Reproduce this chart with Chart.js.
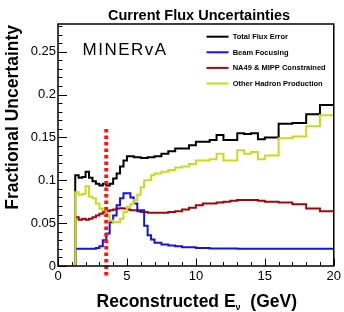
<!DOCTYPE html>
<html>
<head>
<meta charset="utf-8">
<script src="https://cdn.jsdelivr.net/npm/chart.js@4.4.1/dist/chart.umd.min.js"></script>
<style>
html,body{margin:0;padding:0;background:#fff;}
</style>
</head>
<body>
<canvas id="chartFlux" width="344" height="312"></canvas>
<script>
// bin edges (GeV) and per-bin fractional uncertainties
const binEdges = [1.25,1.5,1.75,2.0,2.25,2.5,2.75,3.0,3.25,3.5,3.75,4.0,4.25,4.5,4.75,5.0,5.25,5.5,5.75,6.0,6.25,6.5,6.75,
  7.0,7.5,8.0,8.5,9.0,9.5,10,10.5,11,11.5,12,12.5,13,13.5,14,14.5,15,16,17,18,19,20];

const totalErr = [0.106,0.103,0.104,0.110,0.103,0.099,0.096,0.094,0.096,0.094,0.096,0.102,0.108,0.116,0.123,0.128,0.128,0.127,0.127,0.126,0.126,0.127,0.127,
  0.128,0.131,0.134,0.137,0.137,0.141,0.145,0.145,0.147,0.153,0.147,0.147,0.155,0.154,0.155,0.148,
  0.150,0.166,0.167,0.177,0.188];

const beamFocus = [0.020,0.020,0.020,0.020,0.020,0.020,0.021,0.023,0.030,0.038,0.051,0.059,0.071,0.079,0.085,0.085,0.080,0.073,0.065,0.065,0.047,0.036,0.031,
  0.027,0.025,0.024,0.023,0.022,0.022,0.021,0.021,0.0205,0.0205,0.0203,0.0203,0.020,0.020,0.020,0.020,
  0.020,0.020,0.020,0.020,0.020];

const na49Mipp = [0.057,0.054,0.055,0.054,0.055,0.057,0.059,0.061,0.063,0.064,0.065,0.066,0.067,0.0675,0.067,0.066,0.065,0.065,0.064,0.063,0.063,0.062,0.062,
  0.062,0.062,0.063,0.064,0.066,0.068,0.071,0.073,0.073,0.074,0.075,0.076,0.077,0.077,0.077,0.076,
  0.075,0.074,0.072,0.067,0.064];

const otherHadron = [0.086,0.083,0.084,0.093,0.081,0.079,0.073,0.067,0.065,0.059,0.053,0.051,0.051,0.055,0.063,0.069,0.072,0.077,0.083,0.092,0.100,0.100,0.106,
  0.108,0.110,0.112,0.115,0.116,0.119,0.123,0.123,0.1245,0.131,0.123,0.123,0.135,0.131,0.133,0.1245,
  0.129,0.149,0.151,0.163,0.176];

const seriesNames = ['Total Flux Error','Beam Focusing','NA49 & MIPP Constrained','Other Hadron Production'];
const seriesColors = ['#000000','#1414dc','#9a0a0a','#c8dc1e'];

// dotted cut line
const cutX = [3.5, 3.5];
const cutY = [-0.011, 0.162];

const xTickVals = [0,5,10,15,20];
const xTickLabels = ['0','5','10','15','20'];
const yTickVals = [0,0.05,0.1,0.15,0.2,0.25];
const yTickLabels = ['0','0.05','0.1','0.15','0.2','0.25'];

// histogram -> step points (left edges), starts at 0 from E=0
function histPoints(vals){
  const pts = [{x:0,y:0}];
  for(let i=0;i<vals.length;i++){
    pts.push({x:binEdges[i],y:vals[i]});
  }
  pts.push({x:binEdges[vals.length],y:vals[vals.length-1]});
  return pts;
}

function histSet(label,vals,color){
  return {
    label:label,
    data:histPoints(vals),
    borderColor:color,
    borderWidth:2,
    pointRadius:0,
    fill:false,
    stepped:true,
  }
}

const framePlugin = {
  id:'frame',
  afterDraw(chart){
    const ctx = chart.ctx;
    const a = chart.chartArea;
    const xs = chart.scales.x, ys = chart.scales.y;
    ctx.save();
    ctx.strokeStyle = '#000';
    ctx.lineWidth = 1.5;
    ctx.strokeRect(a.left, a.top, a.right-a.left, a.bottom-a.top);

    // inward ticks
    ctx.lineWidth = 1;
    ctx.beginPath();
    for(let i=0;i<=28;i++){
      const py = Math.round(ys.getPixelForValue(i*0.01))+0.5;
      const len = (i%5===0) ? 9 : 4.5;
      ctx.moveTo(a.left, py);
      ctx.lineTo(a.left+len, py);
    }
    for(let i=0;i<=20;i++){
      const px = Math.round(xs.getPixelForValue(i))+0.5;
      const len = (i%5===0) ? 7.5 : 4;
      ctx.moveTo(px, a.bottom);
      ctx.lineTo(px, a.bottom-len);
    }
    ctx.stroke();

    // title
    ctx.fillStyle = '#000';
    ctx.textBaseline = 'alphabetic';
    ctx.textAlign = 'center';
    ctx.font = 'bold 14.5px "Liberation Sans"';
    ctx.fillText('Current Flux Uncertainties', 199, 19.5);

    // x axis title, right aligned like ROOT
    const t1 = 'Reconstructed E';
    const t2 = '  (GeV)';
    ctx.font = 'bold 17.5px "Liberation Sans"';
    const w1 = ctx.measureText(t1).width;
    const w2 = ctx.measureText(t2).width;
    ctx.font = 'bold 9px "Liberation Sans"';
    const ws = ctx.measureText('\u03bd').width;
    const endX = 297;
    const startX = endX - (w1+ws+w2);
    ctx.textAlign = 'left';
    ctx.font = 'bold 17.5px "Liberation Sans"';
    ctx.fillText(t1, startX, 307);
    ctx.fillText(t2, startX+w1+ws, 307);
    ctx.font = 'bold 9px "Liberation Sans"';
    ctx.fillText('\u03bd', startX+w1, 310);

    // y axis title
    ctx.save();
    ctx.translate(17.5, 25);
    ctx.rotate(-Math.PI/2);
    ctx.textAlign = 'right';
    ctx.font = 'bold 17.5px "Liberation Sans"';
    ctx.fillText('Fractional Uncertainty', 0, 0);
    ctx.restore();

    // experiment label
    ctx.textAlign = 'left';
    ctx.font = '17px "Liberation Sans"';
    ctx.letterSpacing = '1.5px';
    ctx.fillText('MINERvA', 82.5, 55);
    ctx.letterSpacing = '0px';

    // legend
    ctx.font = 'bold 7.5px "Liberation Sans"';
    ctx.textBaseline = 'middle';
    for(let i=0;i<seriesNames.length;i++){
      const ly = 36.7 + i*15.6;
      ctx.strokeStyle = seriesColors[i];
      ctx.lineWidth = 2;
      ctx.beginPath();
      ctx.moveTo(206.5, ly);
      ctx.lineTo(228.5, ly);
      ctx.stroke();
      ctx.fillStyle = '#000';
      ctx.fillText(seriesNames[i], 232.7, ly+0.5);
    }
    ctx.restore();
  }
};

const chartFlux = document.getElementById('chartFlux');

new Chart(chartFlux,{
  type:'line',
  data:{
    datasets:[
      {
        label:'cut',
        data:[{x:cutX[0],y:cutY[0]},{x:cutX[1],y:cutY[1]}],
        borderColor:'#ff1414',
        borderWidth:4,
        borderDash:[3.5,3],
        borderCapStyle:'butt',
        pointRadius:0,
        fill:false,
        clip:false,
      },
      histSet(seriesNames[3],otherHadron,seriesColors[3]),
      histSet(seriesNames[1],beamFocus,seriesColors[1]),
      histSet(seriesNames[2],na49Mipp,seriesColors[2]),
      histSet(seriesNames[0],totalErr,seriesColors[0]),
    ]
  },
  options:{
    responsive:false,
    animation:false,
    devicePixelRatio:1,
    layout:{padding:{top:24,right:7,left:0,bottom:0}},
    plugins:{
      legend:{display:false},
      tooltip:{enabled:false},
      title:{display:false},
    },
    scales:{
      x:{
        type:'linear',
        min:0,
        max:20,
        grid:{display:false,drawTicks:false},
        border:{display:false},
        afterBuildTicks:(s)=>{ s.ticks = xTickVals.map(v=>({value:v})) },
        afterFit:(s)=>{ s.height = 46 },
        ticks:{
          color:'#000',
          padding:3,
          maxRotation:0,
          autoSkip:false,
          font:{family:'"Liberation Sans"',size:13},
          callback:(v)=>xTickLabels[xTickVals.indexOf(v)],
        }
      },
      y:{
        type:'linear',
        min:0,
        max:0.2824,
        grid:{display:false,drawTicks:false},
        border:{display:false},
        afterBuildTicks:(s)=>{ s.ticks = yTickVals.map(v=>({value:v})) },
        afterFit:(s)=>{ s.width = 58 },
        ticks:{
          color:'#000',
          padding:2,
          autoSkip:false,
          font:{family:'"Liberation Sans"',size:13},
          callback:(v)=>yTickLabels[yTickVals.indexOf(v)],
        }
      }
    }
  },
  plugins:[framePlugin],
})
</script>
</body>
</html>
